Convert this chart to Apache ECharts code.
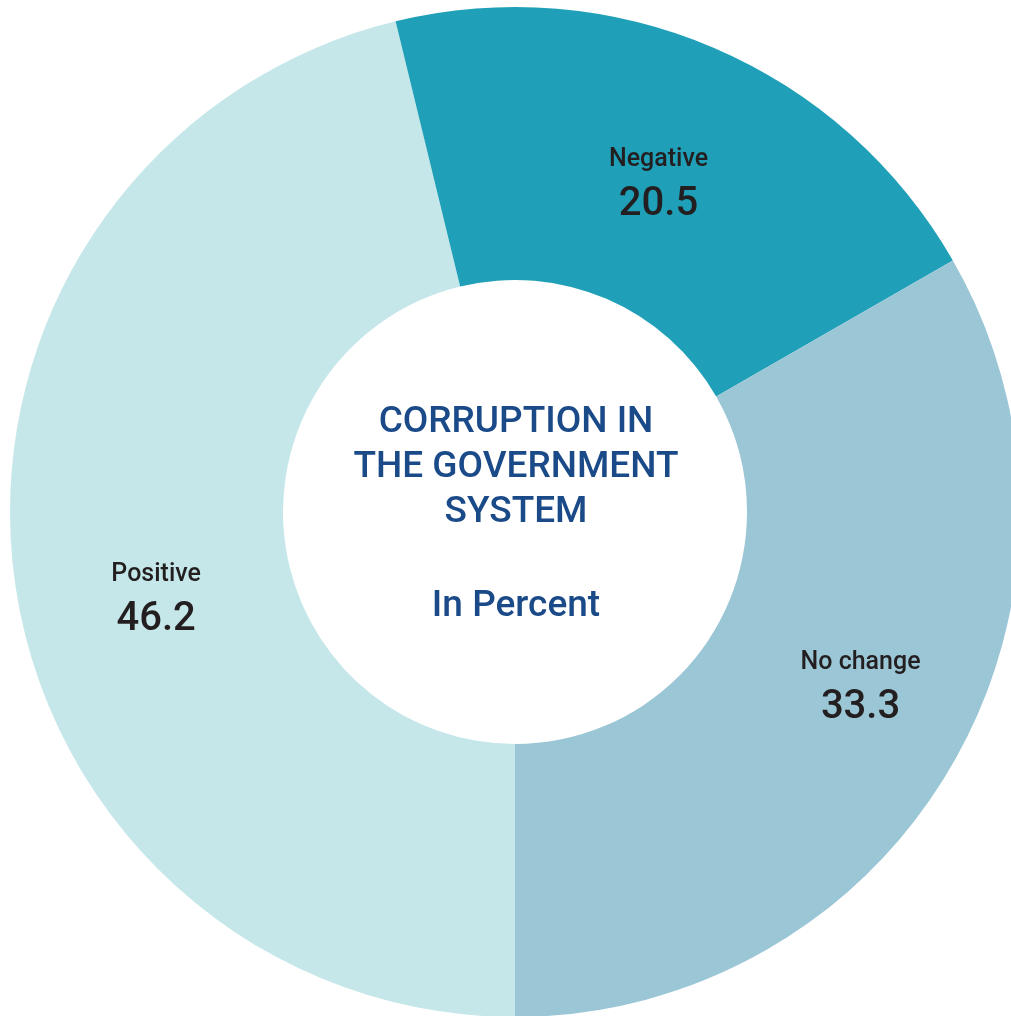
<!DOCTYPE html>
<html>
<head>
<meta charset="utf-8">
<title>Corruption in the government system</title>
<script src="https://cdn.jsdelivr.net/npm/echarts@6/dist/echarts.min.js"></script>
<style>
  html, body { margin: 0; padding: 0; background: #ffffff; }
  #chart { width: 1011px; height: 1016px; }
</style>
</head>
<body>
<div id="chart"></div>
<script>
// Survey answers, in percent, listed clockwise from the bottom of the ring
const categories = ['Positive', 'Negative', 'No change'];
const values = [46.2, 20.5, 33.3];
const sliceColors = ['#c5e7e9', '#1fa0b8', '#9bc6d6'];
// nudges of each slice label away from the ring's mid-radius point
const labelNudges = [[10, 42], [-3, 12], [24, -12]];

const titleLines = ['CORRUPTION IN', 'THE GOVERNMENT', 'SYSTEM'];
const unitText = 'In Percent';

const FONT = 'Roboto, "Noto Sans", sans-serif';

const chart = echarts.init(document.getElementById('chart'), null, { renderer: 'canvas' });

const data = categories.map((name, i) => ({
  name: name,
  value: values[i],
  itemStyle: { color: sliceColors[i] },
  label: { offset: labelNudges[i] }
}));

chart.setOption({
  backgroundColor: '#ffffff',
  animation: false,
  series: [
    {
      type: 'pie',
      center: [515, 512],
      radius: [232, 505],
      startAngle: -90,
      clockwise: true,
      avoidLabelOverlap: false,
      silent: true,
      z: 1,
      itemStyle: { borderWidth: 0 },
      label: {
        show: true,
        position: 'inside',
        formatter: p => '{n|' + p.name + '}\n{v|' + p.value.toFixed(1) + '}',
        rich: {
          n: { fontFamily: FONT, fontSize: 25, fontWeight: 500, color: '#231f20', lineHeight: 44, align: 'center' },
          v: { fontFamily: FONT, fontSize: 40, fontWeight: 500, color: '#231f20', lineHeight: 46, align: 'center' }
        }
      },
      labelLine: { show: false },
      data: data
    }
  ],
  graphic: [
    {
      type: 'text',
      z: 100,
      x: 516,
      y: 400,
      style: {
        text: titleLines.join('\n'),
        fill: '#1b4a88',
        font: '500 37px ' + FONT,
        lineHeight: 45,
        align: 'center',
        verticalAlign: 'top'
      }
    },
    {
      type: 'text',
      z: 100,
      x: 516,
      y: 607,
      style: {
        text: unitText,
        fill: '#1b4a88',
        font: '500 37px ' + FONT,
        align: 'center',
        verticalAlign: 'middle'
      }
    }
  ]
});
</script>
</body>
</html>
